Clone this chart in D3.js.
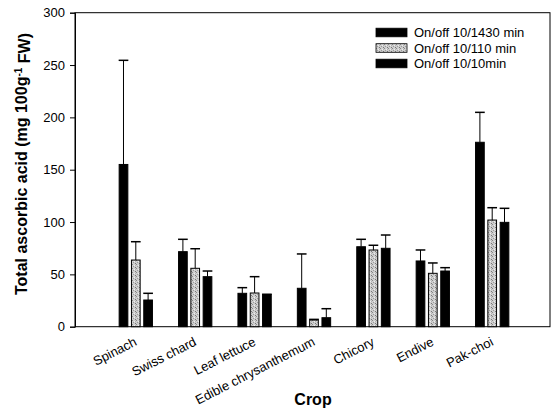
<!DOCTYPE html>
<html><head><meta charset="utf-8">
<script src="https://cdn.jsdelivr.net/npm/d3@7/dist/d3.min.js"></script>
<style>body{margin:0;background:#fff}svg{display:block}text{font-family:"Liberation Sans",Arial,sans-serif;fill:#000}</style>
</head><body>
<script>
const categories = ["Spinach","Swiss chard","Leaf lettuce","Edible chrysanthemum","Chicory","Endive","Pak-choi"];
const seriesNames = ["On/off 10/1430 min","On/off 10/110 min","On/off 10/10min"];
const mean1430 = [155, 71.7, 31.9, 36.7, 76.4, 62.8, 176.2];
const err1430  = [99.5, 11.8, 5.4, 32.8, 7.1, 10.5, 28.6];
const mean110  = [63.7, 55.8, 32.2, 6.4, 73.3, 51.0, 101.9];
const err110   = [17.5, 18.7, 15.6, 0.6, 4.5, 9.9, 11.8];
const mean10   = [25.5, 47.8, 30.6, 8.6, 74.9, 53.2, 99.7];
const err10    = [6.4, 5.4, 0.4, 8.6, 12.7, 3.2, 13.4];
const yTicks = [0, 50, 100, 150, 200, 250, 300];

const W = 553, H = 410;
const L = 75, R = 550, T = 12.7, B = 326.7;
const svg = d3.select("body").append("svg").attr("width", W).attr("height", H);

const defs = svg.append("defs");
const pat = defs.append("pattern").attr("id","speck").attr("patternUnits","userSpaceOnUse").attr("width",4).attr("height",4);
pat.append("rect").attr("width",4).attr("height",4).attr("fill","#cfcfcf");
[[0,0,"#8a8a8a"],[2,1,"#eeeeee"],[1,2,"#9a9a9a"],[3,3,"#777"],[3,1,"#b0b0b0"]].forEach(([x,y,c]) =>
  pat.append("rect").attr("x",x).attr("y",y).attr("width",1).attr("height",1).attr("fill",c));

const fills = ["#000", "url(#speck)", "#000"];
const means = [mean1430, mean110, mean10];
const errs = [err1430, err110, err10];

const y = d3.scaleLinear().domain([0, 300]).range([B, T]);
const x = d3.scaleBand().domain(categories).range([106.1, 521.9]);
const bw = x.bandwidth();
const xs = d3.scaleBand().domain(seriesNames).range([bw/2 - 16.65, bw/2 + 16.65]).paddingInner(0.293);

// frame
svg.append("rect").attr("x", L).attr("y", T).attr("width", R - L).attr("height", B - T)
  .attr("fill","none").attr("stroke","#000").attr("stroke-width",1);

// y axis
const yAxis = svg.append("g").attr("transform", `translate(${L},0)`)
  .call(d3.axisLeft(y).tickValues(yTicks).tickSize(5).tickPadding(5));
yAxis.select(".domain").attr("stroke","#000");
yAxis.selectAll("text").style("font-size","13px").attr("font-family",'"Liberation Sans",Arial,sans-serif');

// bars
const data = [];
categories.forEach((c, i) => seriesNames.forEach((s, j) =>
  data.push({c, s, j, v: means[j][i], e: errs[j][i]})));

const g = svg.append("g");
g.selectAll("rect.bar").data(data).join("rect").attr("class","bar")
  .attr("x", d => x(d.c) + xs(d.s))
  .attr("y", d => y(d.v))
  .attr("width", xs.bandwidth())
  .attr("height", d => y(0) - y(d.v))
  .attr("fill", d => fills[d.j])
  .attr("stroke", "#000").attr("stroke-width", 1);

// error bars (upper only)
g.selectAll("line.stem").data(data).join("line").attr("class","stem")
  .attr("x1", d => x(d.c) + xs(d.s) + xs.bandwidth()/2)
  .attr("x2", d => x(d.c) + xs(d.s) + xs.bandwidth()/2)
  .attr("y1", d => y(d.v)).attr("y2", d => y(d.v + d.e))
  .attr("stroke","#000").attr("stroke-width",1);
g.selectAll("line.cap").data(data).join("line").attr("class","cap")
  .attr("x1", d => x(d.c) + xs(d.s) - 0.5)
  .attr("x2", d => x(d.c) + xs(d.s) + xs.bandwidth() + 0.5)
  .attr("y1", d => y(d.v + d.e)).attr("y2", d => y(d.v + d.e))
  .attr("stroke","#000").attr("stroke-width",1.5);

// x labels
svg.append("g").selectAll("text").data(categories).join("text")
  .attr("transform", d => `translate(${x(d) + bw/2 + 2},${B + 18}) rotate(-27)`)
  .attr("text-anchor","end").style("font-size","13px").text(d => d);

// axis titles
svg.append("text").attr("x", 313).attr("y", 405).attr("text-anchor","middle")
  .style("font-size","16px").style("font-weight","bold").text("Crop");
const yt = svg.append("text").attr("transform","translate(27,164) rotate(-90)").attr("text-anchor","middle")
  .style("font-size","16px").style("font-weight","bold");
yt.append("tspan").text("Total ascorbic acid (mg 100g");
yt.append("tspan").attr("dy","-0.55em").style("font-size","10px").text("-1");
yt.append("tspan").attr("dy","0.55em").text(" FW)");

// legend
const lg = svg.append("g");
seriesNames.forEach((s, j) => {
  const cy = 32.5 + j * 15.5;
  lg.append("rect").attr("x", 376).attr("y", cy - 4.3).attr("width", 31).attr("height", 8.6)
    .attr("fill", fills[j]).attr("stroke","#000").attr("stroke-width",0.8);
  lg.append("text").attr("x", 414).attr("y", cy).attr("dy","0.36em").style("font-size","13px").text(s);
});
</script>
</body></html>
